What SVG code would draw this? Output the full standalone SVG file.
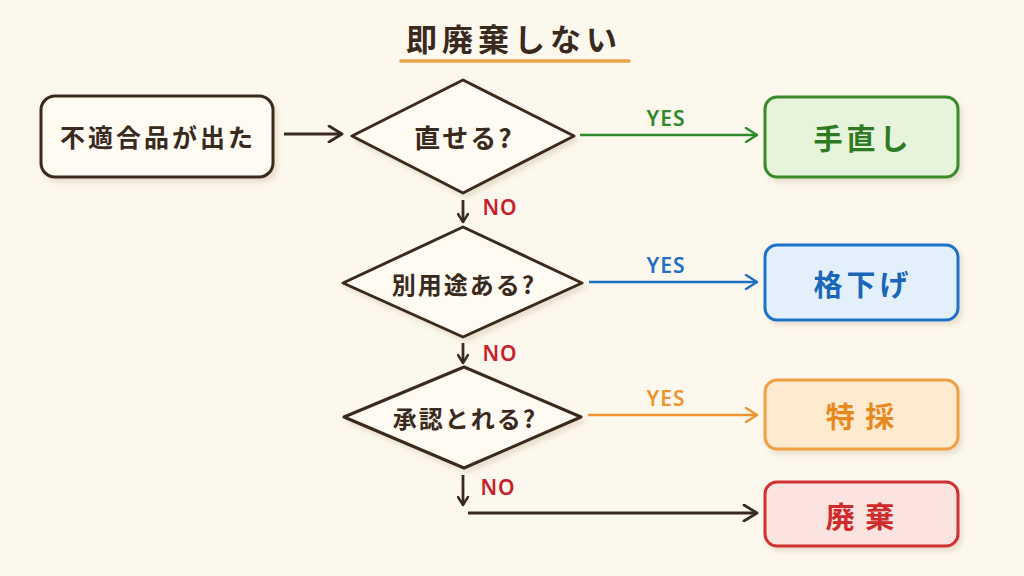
<svg xmlns="http://www.w3.org/2000/svg" width="1024" height="576" viewBox="0 0 1024 576">
<defs>
<filter id="sh" x="-10%" y="-10%" width="130%" height="140%">
<feDropShadow dx="3" dy="4" stdDeviation="2.5" flood-color="#8a6a40" flood-opacity="0.18"/>
</filter>
<marker id="aDark" viewBox="0 0 12 12" refX="10" refY="6" markerWidth="12" markerHeight="12" markerUnits="userSpaceOnUse" orient="auto"><path d="M2,1 L10,6 L2,11" fill="none" stroke="#3a2a1e" stroke-width="2.4" stroke-linecap="round" stroke-linejoin="round"/></marker>
<marker id="aDarkL" viewBox="0 0 18 18" refX="16" refY="9" markerWidth="18" markerHeight="18" markerUnits="userSpaceOnUse" orient="auto"><path d="M3,1 L16,9 L3,17" fill="none" stroke="#3a2a1e" stroke-width="2.8" stroke-linecap="round" stroke-linejoin="round"/></marker>
<marker id="aGreen" viewBox="0 0 16 16" refX="14" refY="8" markerWidth="16" markerHeight="16" markerUnits="userSpaceOnUse" orient="auto"><path d="M3,1 L14,8 L3,15" fill="none" stroke="#2f8a2a" stroke-width="2.4" stroke-linecap="round" stroke-linejoin="round"/></marker>
<marker id="aBlue" viewBox="0 0 16 16" refX="14" refY="8" markerWidth="16" markerHeight="16" markerUnits="userSpaceOnUse" orient="auto"><path d="M3,1 L14,8 L3,15" fill="none" stroke="#1f6fc4" stroke-width="2.4" stroke-linecap="round" stroke-linejoin="round"/></marker>
<marker id="aOrange" viewBox="0 0 16 16" refX="14" refY="8" markerWidth="16" markerHeight="16" markerUnits="userSpaceOnUse" orient="auto"><path d="M3,1 L14,8 L3,15" fill="none" stroke="#ee9530" stroke-width="2.4" stroke-linecap="round" stroke-linejoin="round"/></marker>
</defs>
<style>
text { font-family: "Noto Sans CJK JP", "Noto Sans", sans-serif; font-weight: 700; text-anchor: middle; dominant-baseline: central; }
.dark { fill: #3a2a1e; }
.node { stroke-width: 3; filter: url(#sh); }
.start { fill: #fffbf2; stroke: #3a2a1e; }
.dia { fill: #fffbf2; stroke: #3a2a1e; stroke-linejoin: round; }
.lbl { font-family: "Noto Sans", "Liberation Sans", sans-serif; font-size: 21px; font-weight: 600; letter-spacing: 1px; }
.conn { fill: none; stroke-width: 2.4; }
.dk { stroke-width: 2.8; }
</style>
<rect width="1024" height="576" fill="#fdf8ee"/>
<g id="title">
<text x="514" y="37" class="dark" font-size="31" letter-spacing="5">即廃棄しない</text>
<line x1="401" y1="61" x2="629" y2="61" stroke="#e9a447" stroke-width="3.5" stroke-linecap="round"/>
</g>
<g id="connectors">
<line class="conn dk" x1="284" y1="134" x2="342" y2="134" stroke="#3a2a1e" marker-end="url(#aDarkL)"/>
<line class="conn" x1="580" y1="135" x2="757" y2="135" stroke="#2f8a2a" marker-end="url(#aGreen)"/>
<text class="lbl" x="666" y="118" fill="#2f8a2a">YES</text>
<line class="conn" x1="589" y1="282" x2="757" y2="282" stroke="#1f6fc4" marker-end="url(#aBlue)"/>
<text class="lbl" x="666" y="265" fill="#1f6fc4">YES</text>
<line class="conn" x1="588" y1="415" x2="757" y2="415" stroke="#ee9530" marker-end="url(#aOrange)"/>
<text class="lbl" x="666" y="398" fill="#ee9530">YES</text>
<line class="conn dk" x1="463" y1="200" x2="463" y2="222" stroke="#3a2a1e" marker-end="url(#aDark)"/>
<text class="lbl" x="500" y="207" fill="#c8202a">NO</text>
<line class="conn dk" x1="463" y1="343" x2="463" y2="363" stroke="#3a2a1e" marker-end="url(#aDark)"/>
<text class="lbl" x="500" y="353" fill="#c8202a">NO</text>
<line class="conn dk" x1="463" y1="475" x2="463" y2="505" stroke="#3a2a1e" marker-end="url(#aDark)"/>
<text class="lbl" x="498" y="487" fill="#c8202a">NO</text>
<line class="conn dk" x1="468" y1="513" x2="757" y2="513" stroke="#3a2a1e" marker-end="url(#aDarkL)"/>
</g>
<g id="start">
<rect class="node start" x="41" y="96" width="232" height="81" rx="14"/>
<text x="158" y="136" class="dark" font-size="25" letter-spacing="3">不適合品が出た</text>
</g>
<g id="q1">
<polygon class="node dia" points="463,80 574,136 463,193 352,136"/>
<text x="464" y="136" class="dark" font-size="26" letter-spacing="2">直せる?</text>
</g>
<g id="q2">
<polygon class="node dia" points="463,227 582,283 463,337 343,283"/>
<text x="464" y="283" class="dark" font-size="24" letter-spacing="2">別用途ある?</text>
</g>
<g id="q3">
<polygon class="node dia" points="464,367 581,417 464,468 344,417"/>
<text x="465" y="417" class="dark" font-size="24" letter-spacing="2">承認とれる?</text>
</g>
<g id="r1">
<rect class="node" x="765" y="97" width="193" height="80" rx="12" fill="#e6f4dc" stroke="#3a8a2c"/>
<text x="863" y="137" font-size="29" letter-spacing="4" fill="#2e7a23">手直し</text>
</g>
<g id="r2">
<rect class="node" x="765" y="245" width="193" height="75" rx="12" fill="#e3f0fc" stroke="#1f73c8"/>
<text x="863" y="283" font-size="29" letter-spacing="4" fill="#1a66b8">格下げ</text>
</g>
<g id="r3">
<rect class="node" x="765" y="380" width="193" height="69" rx="12" fill="#fdeacf" stroke="#f0a040"/>
<text x="861" y="415" font-size="29" letter-spacing="2" fill="#e8891e">特 採</text>
</g>
<g id="r4">
<rect class="node" x="765" y="482" width="193" height="64" rx="12" fill="#fbe3e0" stroke="#d03030"/>
<text x="861" y="515" font-size="29" letter-spacing="2" fill="#d02a2a">廃 棄</text>
</g>
</svg>
